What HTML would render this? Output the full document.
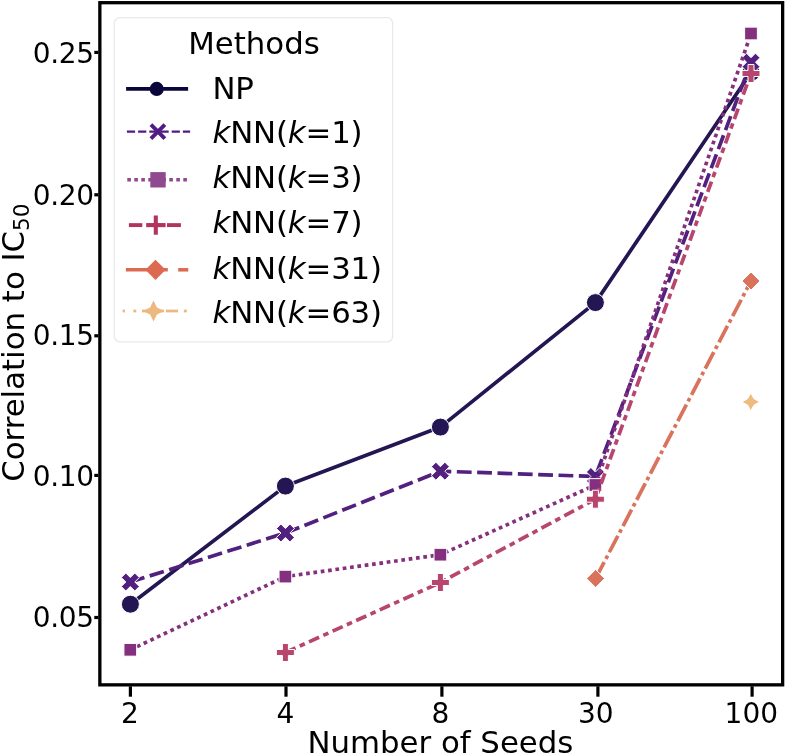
<!DOCTYPE html>
<html lang="en"><head><meta charset="utf-8"><title>Correlation to IC50 vs Number of Seeds</title>
<style>
html,body{margin:0;padding:0;background:#fff;}
body{width:785px;height:756px;overflow:hidden;}
svg{display:block;}
text{font-family:"DejaVu Sans", "Liberation Sans", sans-serif;fill:#000;}
</style></head><body>
<svg width="785" height="756" viewBox="0 0 785 756">
<rect x="0" y="0" width="785" height="756" fill="#fff"/>
<g id="series" fill="none" stroke-linecap="butt" stroke-linejoin="round">
<path d="M130.40 604.20 L285.40 486.10 L440.40 427.10 L595.40 302.60 L751.00 72.50" stroke="#241653" stroke-width="3.7"/>
<circle cx="130.40" cy="604.20" r="9.00" fill="#241653" stroke="#fff" stroke-width="1.0" stroke-linejoin="miter"/>
<circle cx="285.40" cy="486.10" r="9.00" fill="#241653" stroke="#fff" stroke-width="1.0" stroke-linejoin="miter"/>
<circle cx="440.40" cy="427.10" r="9.00" fill="#241653" stroke="#fff" stroke-width="1.0" stroke-linejoin="miter"/>
<circle cx="595.40" cy="302.60" r="9.00" fill="#241653" stroke="#fff" stroke-width="1.0" stroke-linejoin="miter"/>
<circle cx="751.00" cy="72.50" r="9.00" fill="#241653" stroke="#fff" stroke-width="1.0" stroke-linejoin="miter"/>
<path d="M130.30 582.00 L285.40 533.00 L440.40 471.20 L595.40 476.50 L751.00 62.20" stroke="#52207f" stroke-width="3.7" stroke-dasharray="14.80 5.55"/>
<polygon points="125.80,573.00 130.30,577.50 134.80,573.00 139.30,577.50 134.80,582.00 139.30,586.50 134.80,591.00 130.30,586.50 125.80,591.00 121.30,586.50 125.80,582.00 121.30,577.50" fill="#52207f" stroke="#fff" stroke-width="1.0" stroke-linejoin="miter"/>
<polygon points="280.90,524.00 285.40,528.50 289.90,524.00 294.40,528.50 289.90,533.00 294.40,537.50 289.90,542.00 285.40,537.50 280.90,542.00 276.40,537.50 280.90,533.00 276.40,528.50" fill="#52207f" stroke="#fff" stroke-width="1.0" stroke-linejoin="miter"/>
<polygon points="435.90,462.20 440.40,466.70 444.90,462.20 449.40,466.70 444.90,471.20 449.40,475.70 444.90,480.20 440.40,475.70 435.90,480.20 431.40,475.70 435.90,471.20 431.40,466.70" fill="#52207f" stroke="#fff" stroke-width="1.0" stroke-linejoin="miter"/>
<polygon points="590.90,467.50 595.40,472.00 599.90,467.50 604.40,472.00 599.90,476.50 604.40,481.00 599.90,485.50 595.40,481.00 590.90,485.50 586.40,481.00 590.90,476.50 586.40,472.00" fill="#52207f" stroke="#fff" stroke-width="1.0" stroke-linejoin="miter"/>
<polygon points="746.50,53.20 751.00,57.70 755.50,53.20 760.00,57.70 755.50,62.20 760.00,66.70 755.50,71.20 751.00,66.70 746.50,71.20 742.00,66.70 746.50,62.20 742.00,57.70" fill="#52207f" stroke="#fff" stroke-width="1.0" stroke-linejoin="miter"/>
<path d="M130.30 649.80 L285.40 576.60 L440.40 554.70 L595.40 485.00 L751.00 33.50" stroke="#852f7f" stroke-width="3.7" stroke-dasharray="3.70 3.70"/>
<polygon points="123.94,643.44 136.66,643.44 136.66,656.16 123.94,656.16" fill="#852f7f" stroke="#fff" stroke-width="1.0" stroke-linejoin="miter"/>
<polygon points="279.04,570.24 291.76,570.24 291.76,582.96 279.04,582.96" fill="#852f7f" stroke="#fff" stroke-width="1.0" stroke-linejoin="miter"/>
<polygon points="434.04,548.34 446.76,548.34 446.76,561.06 434.04,561.06" fill="#852f7f" stroke="#fff" stroke-width="1.0" stroke-linejoin="miter"/>
<polygon points="589.04,478.64 601.76,478.64 601.76,491.36 589.04,491.36" fill="#852f7f" stroke="#fff" stroke-width="1.0" stroke-linejoin="miter"/>
<polygon points="744.64,27.14 757.36,27.14 757.36,39.86 744.64,39.86" fill="#852f7f" stroke="#fff" stroke-width="1.0" stroke-linejoin="miter"/>
<path d="M285.40 652.50 L440.40 582.50 L595.40 499.20 L751.00 73.50" stroke="#b8456d" stroke-width="3.7" stroke-dasharray="11.10 4.62 5.55 4.62"/>
<polygon points="282.40,643.50 288.40,643.50 288.40,649.50 294.40,649.50 294.40,655.50 288.40,655.50 288.40,661.50 282.40,661.50 282.40,655.50 276.40,655.50 276.40,649.50 282.40,649.50" fill="#b8456d" stroke="#fff" stroke-width="1.0" stroke-linejoin="miter"/>
<polygon points="437.40,573.50 443.40,573.50 443.40,579.50 449.40,579.50 449.40,585.50 443.40,585.50 443.40,591.50 437.40,591.50 437.40,585.50 431.40,585.50 431.40,579.50 437.40,579.50" fill="#b8456d" stroke="#fff" stroke-width="1.0" stroke-linejoin="miter"/>
<polygon points="592.40,490.20 598.40,490.20 598.40,496.20 604.40,496.20 604.40,502.20 598.40,502.20 598.40,508.20 592.40,508.20 592.40,502.20 586.40,502.20 586.40,496.20 592.40,496.20" fill="#b8456d" stroke="#fff" stroke-width="1.0" stroke-linejoin="miter"/>
<polygon points="748.00,64.50 754.00,64.50 754.00,70.50 760.00,70.50 760.00,76.50 754.00,76.50 754.00,82.50 748.00,82.50 748.00,76.50 742.00,76.50 742.00,70.50 748.00,70.50" fill="#b8456d" stroke="#fff" stroke-width="1.0" stroke-linejoin="miter"/>
<path d="M595.60 578.50 L751.00 281.00" stroke="#d9735b" stroke-width="3.7" stroke-dasharray="18.50 3.70 3.70 3.70"/>
<polygon points="595.60,569.50 604.60,578.50 595.60,587.50 586.60,578.50" fill="#d9735b" stroke="#fff" stroke-width="1.0" stroke-linejoin="miter"/>
<polygon points="751.00,272.00 760.00,281.00 751.00,290.00 742.00,281.00" fill="#d9735b" stroke="#fff" stroke-width="1.0" stroke-linejoin="miter"/>
<polygon points="750.80,392.90 753.98,398.72 759.80,401.90 753.98,405.08 750.80,410.90 747.62,405.08 741.80,401.90 747.62,398.72" fill="#eebb7e" stroke="#fff" stroke-width="1.0" stroke-linejoin="miter"/>
</g>
<g id="axes" stroke="#000" fill="none">
<rect x="99.85" y="2.7" width="682.80" height="682.15" stroke-width="3.3"/>
<line x1="130.4" y1="686.30" x2="130.4" y2="696.7" stroke-width="3.2"/>
<line x1="286.0" y1="686.30" x2="286.0" y2="696.7" stroke-width="3.2"/>
<line x1="441.9" y1="686.30" x2="441.9" y2="696.7" stroke-width="3.2"/>
<line x1="597.9" y1="686.30" x2="597.9" y2="696.7" stroke-width="3.2"/>
<line x1="752.1" y1="686.30" x2="752.1" y2="696.7" stroke-width="3.2"/>
<line x1="94.3" y1="52.4" x2="98.40" y2="52.4" stroke-width="3.2"/>
<line x1="94.3" y1="194.8" x2="98.40" y2="194.8" stroke-width="3.2"/>
<line x1="94.3" y1="335.8" x2="98.40" y2="335.8" stroke-width="3.2"/>
<line x1="94.3" y1="475.4" x2="98.40" y2="475.4" stroke-width="3.2"/>
<line x1="94.3" y1="617.5" x2="98.40" y2="617.5" stroke-width="3.2"/>
</g>
<g id="ticklabels" font-size="28">
<text x="129.9" y="723.2" text-anchor="middle">2</text>
<text x="285.3" y="723.2" text-anchor="middle">4</text>
<text x="440.3" y="723.2" text-anchor="middle">8</text>
<text x="595.7" y="723.2" text-anchor="middle">30</text>
<text x="751.3" y="723.2" text-anchor="middle">100</text>
<text x="93.6" y="62.95" text-anchor="end" letter-spacing="-0.4">0.25</text>
<text x="93.6" y="204.50" text-anchor="end" letter-spacing="-0.4">0.20</text>
<text x="93.6" y="345.00" text-anchor="end" letter-spacing="-0.4">0.15</text>
<text x="93.6" y="485.60" text-anchor="end" letter-spacing="-0.4">0.10</text>
<text x="93.6" y="626.70" text-anchor="end" letter-spacing="-0.4">0.05</text>
</g>
<text x="440.4" y="753" font-size="30.8" text-anchor="middle">Number of Seeds</text>
<text transform="translate(24.2 342.6) rotate(-90)" font-size="30.8" text-anchor="middle">Correlation to IC<tspan font-size="21.6" dy="4.8">50</tspan></text>
<g id="legend">
<rect x="114.3" y="17.6" width="278.3" height="324.3" rx="5.5" ry="5.5" fill="#fff" fill-opacity="0.8" stroke="#e9e9e9" stroke-width="1.3"/>
<text x="188.2" y="54" font-size="30.8">Methods</text>
<text x="212.6" y="99.3" font-size="30.8" letter-spacing="-0.3">NP</text>
<text x="212.5" y="143.3" font-size="30.8" letter-spacing="-0.15"><tspan font-style="italic">k</tspan>NN(<tspan font-style="italic">k</tspan>=1)</text>
<text x="212.5" y="188.4" font-size="30.8" letter-spacing="-0.15"><tspan font-style="italic">k</tspan>NN(<tspan font-style="italic">k</tspan>=3)</text>
<text x="212.5" y="232.6" font-size="30.8" letter-spacing="-0.15"><tspan font-style="italic">k</tspan>NN(<tspan font-style="italic">k</tspan>=7)</text>
<text x="212.5" y="278.7" font-size="30.8" letter-spacing="-0.15"><tspan font-style="italic">k</tspan>NN(<tspan font-style="italic">k</tspan>=31)</text>
<text x="212.5" y="323.0" font-size="30.8" letter-spacing="-0.15"><tspan font-style="italic">k</tspan>NN(<tspan font-style="italic">k</tspan>=63)</text>
<line x1="126.1" y1="88.9" x2="188.1" y2="88.9" stroke="#0a063b" stroke-width="3.6"/>
<circle cx="156.70" cy="88.90" r="7.05" fill="#0a063b" stroke="#0a063b" stroke-width="0" stroke-linejoin="miter"/>
<line x1="126.9" y1="131.7" x2="190.1" y2="131.7" stroke="#511c85" stroke-width="2.3" stroke-dasharray="8.2 3"/>
<path d="M150.93 124.73 L164.87 138.67 M150.93 138.67 L164.87 124.73" stroke="#511c85" stroke-width="3.9" fill="none"/>
<line x1="127.3" y1="179.8" x2="187" y2="179.8" stroke="#90488f" stroke-width="3.6" stroke-dasharray="3.6 3.4"/>
<polygon points="150.30,172.10 165.70,172.10 165.70,187.50 150.30,187.50" fill="#90488f" stroke="#90488f" stroke-width="0" stroke-linejoin="miter"/>
<line x1="128.9" y1="225.1" x2="142.3" y2="225.1" stroke="#b03360" stroke-width="3.9"/>
<line x1="167.0" y1="225.1" x2="180.9" y2="225.1" stroke="#b03360" stroke-width="3.9"/>
<line x1="146.2" y1="225.1" x2="165.6" y2="225.1" stroke="#b03360" stroke-width="4.1"/>
<line x1="155.8" y1="215.5" x2="155.8" y2="234.7" stroke="#b03360" stroke-width="4.1"/>
<line x1="125.9" y1="269.8" x2="167.8" y2="269.8" stroke="#dc6a50" stroke-width="3.5"/>
<line x1="178.2" y1="269.8" x2="188.3" y2="269.8" stroke="#dc6a50" stroke-width="3.5"/>
<polygon points="155.50,259.70 165.60,269.80 155.50,279.90 145.40,269.80" fill="#dc6a50" stroke="#dc6a50" stroke-width="0" stroke-linejoin="miter"/>
<line x1="122.6" y1="311.0" x2="125.0" y2="311.0" stroke="#ecb87f" stroke-width="2.8"/>
<line x1="133.3" y1="311.0" x2="136.3" y2="311.0" stroke="#ecb87f" stroke-width="2.8"/>
<line x1="142.0" y1="311.0" x2="164.0" y2="311.0" stroke="#ecb87f" stroke-width="2.8"/>
<line x1="165.9" y1="311.0" x2="178.0" y2="311.0" stroke="#ecb87f" stroke-width="2.8"/>
<line x1="183.8" y1="311.0" x2="186.8" y2="311.0" stroke="#ecb87f" stroke-width="2.8"/>
<polygon points="153.50,300.45 156.93,307.57 164.05,311.00 156.93,314.43 153.50,321.55 150.07,314.43 142.95,311.00 150.07,307.57" fill="#ecb87f" stroke="#ecb87f" stroke-width="0" stroke-linejoin="miter"/>
</g>
</svg></body></html>
